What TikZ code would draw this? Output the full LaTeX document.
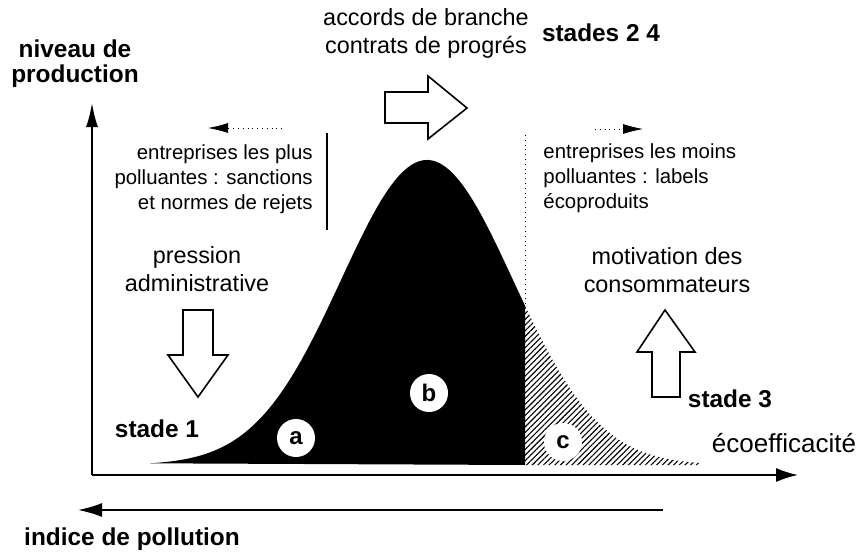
\documentclass[tikz,border=0pt]{standalone}
\usepackage{fontspec}
\setmainfont{Liberation Sans}
\usetikzlibrary{arrows.meta,patterns.meta}

\begin{document}
\begin{tikzpicture}[x=0.5pt,y=-0.5pt,
    txt/.style={inner sep=0pt,align=center,font=\fontsize{11.7}{14}\selectfont},
    titre/.style={inner sep=0pt,align=center,font=\bfseries\fontsize{12.2}{12.5}\selectfont},
    petit/.style={inner sep=0pt,font=\fontsize{10.2}{12.5}\selectfont},
    lettre/.style={circle,fill=white,inner sep=0pt,minimum size=19pt,font=\bfseries\fontsize{12}{12}\selectfont},
    bloc/.style={draw,line width=0.8pt,fill=white,line join=miter},
    axe/.style={line width=0.9pt}]

\useasboundingbox (0,0) rectangle (866,556);

% courbe
\fill plot[domain=150:525,samples=90] (\x,{465-305*exp(-0.5*((\x-427)/86)*((\x-427)/86))}) -- (525,465) -- cycle;
\fill[pattern={Lines[angle=45,distance=2pt,line width=0.55pt]}] (525,465)
    -- plot[domain=525:700,samples=40] (\x,{465-305*exp(-0.5*((\x-427)/86)*((\x-427)/86))}) -- (700,465) -- cycle;

% axes
\coordinate (O) at (92,475);
\coordinate (Y) at (92,103);
\coordinate (X) at (798,475);
\coordinate (P1) at (663,510);
\coordinate (P2) at (78,510);
\draw[axe,-{Latex[length=12pt,width=6pt]}] (O) -- (Y);
\draw[axe,-{Latex[length=11pt,width=7pt]}] (O) -- (X);
\draw[axe,-{Latex[length=12pt,width=7pt]}] (P1) -- (P2);

% limites
\coordinate (g1) at (327,133);
\coordinate (g2) at (327,230);
\coordinate (d1) at (525,135);
\coordinate (d2) at (525,307);
\draw[line width=0.8pt] (g1) -- (g2);
\draw[dotted] (d1) -- (d2);

\coordinate (fg1) at (282,128);
\coordinate (fg2) at (208,128);
\coordinate (fd1) at (595,129);
\coordinate (fd2) at (643,129);
\draw[dotted,-{Latex[length=10pt,width=5pt]}] (fg1) -- (fg2);
\draw[dotted,-{Latex[length=10pt,width=5pt]}] (fd1) -- (fd2);

% grosses fleches
\draw[bloc] (183,310) -- (213,310) -- (213,355) -- (228,355) -- (198,397) -- (168,355) -- (183,355) -- cycle;
\draw[bloc] (385,92) -- (428,92) -- (428,76) -- (467,108) -- (428,139) -- (428,123) -- (385,123) -- cycle;
\draw[bloc] (652,397) -- (680,397) -- (680,352) -- (695,352) -- (665,310) -- (637,352) -- (652,352) -- cycle;

% textes
\node[titre] (niveau) at (75,64) {niveau de\\production};
\node[txt] (accords) at (426,33) {accords de branche\\contrats de progrés};
\node[titre,anchor=base] (stades) at (601,42) {stades 2 4};
\node[petit,align=right,anchor=east] (plus) at (313,179) {entreprises les plus\\polluantes : sanctions\\et normes de rejets};
\node[petit,align=left,anchor=west] (moins) at (543,178) {entreprises les moins\\polluantes : labels\\écoproduits};
\node[txt] (pression) at (197,269) {pression\\administrative};
\node[txt] (motivation) at (667,270) {motivation des\\consommateurs};
\node[titre,anchor=mid] (stade1) at (157,432) {stade 1};
\node[titre,anchor=mid] (stade3) at (730,402) {stade 3};
\node[txt,font=\fontsize{13}{14}\selectfont,anchor=mid] (ecoeff) at (784,447) {écoefficacité};
\node[titre,anchor=mid] (indice) at (132,540) {indice de pollution};

\foreach \n/\x/\y in {a/296/438, b/429/393, c/563/442}
    \node[lettre] (\n) at (\x,\y) {\n};

\end{tikzpicture}
\end{document}
